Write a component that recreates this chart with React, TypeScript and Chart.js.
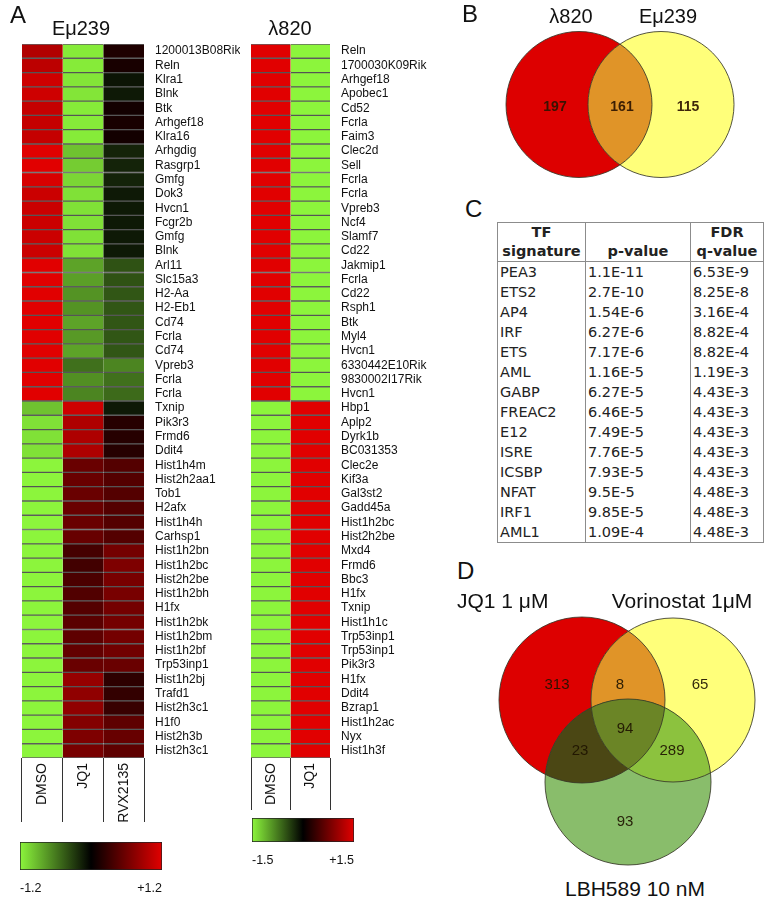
import React, { useEffect, useRef } from 'react';
import { Chart, registerables } from 'chart.js';

Chart.register(...registerables);

const FONT = "'Liberation Sans', Arial, Helvetica, sans-serif";
const TABLE_FONT = "'DejaVu Sans', Verdana, sans-serif";

// ---------------- Panel A: Eμ239 heatmap ----------------
const E239_GENES = [
  '1200013B08Rik', 'Reln', 'Klra1', 'Blnk', 'Btk', 'Arhgef18', 'Klra16', 'Arhgdig', 'Rasgrp1', 'Gmfg',
  'Dok3', 'Hvcn1', 'Fcgr2b', 'Gmfg', 'Blnk', 'Arl11', 'Slc15a3', 'H2-Aa', 'H2-Eb1', 'Cd74',
  'Fcrla', 'Cd74', 'Vpreb3', 'Fcrla', 'Fcrla', 'Txnip', 'Pik3r3', 'Frmd6', 'Ddit4', 'Hist1h4m',
  'Hist2h2aa1', 'Tob1', 'H2afx', 'Hist1h4h', 'Carhsp1', 'Hist1h2bn', 'Hist1h2bc', 'Hist2h2be', 'Hist1h2bh', 'H1fx',
  'Hist1h2bk', 'Hist1h2bm', 'Hist1h2bf', 'Trp53inp1', 'Hist1h2bj', 'Trafd1', 'Hist2h3c1', 'H1f0', 'Hist2h3b', 'Hist2h3c1',
];
const E239_COLUMNS = ['DMSO', 'JQ1', 'RVX2135'];
const E239_DMSO = [
  0.95, 1.0, 1.1, 1.1, 1.05, 1.05, 1.05, 1.2, 1.2, 1.15,
  1.08, 1.08, 1.08, 1.08, 1.08, 1.2, 1.2, 1.2, 1.2, 1.2,
  1.2, 1.2, 1.2, 1.2, 1.2, -0.95, -1.1, -1.1, -1.1, -1.2,
  -1.2, -1.2, -1.2, -1.2, -1.2, -1.2, -1.2, -1.2, -1.2, -1.2,
  -1.2, -1.2, -1.2, -1.2, -1.2, -1.2, -1.2, -1.2, -1.2, -1.2,
];
const E239_JQ1 = [
  -1.15, -1.15, -1.12, -1.12, -1.15, -1.15, -1.15, -0.95, -1.0, -1.05,
  -1.1, -1.1, -1.1, -1.1, -1.1, -0.8, -0.78, -0.72, -0.72, -0.8,
  -0.75, -0.8, -0.55, -0.7, -0.65, 1.1, 0.93, 0.93, 0.93, 0.56,
  0.56, 0.56, 0.56, 0.56, 0.55, 0.37, 0.35, 0.4, 0.43, 0.45,
  0.48, 0.5, 0.53, 0.56, 0.8, 0.77, 0.77, 0.7, 0.67, 0.64,
];
const E239_RVX2135 = [
  0.16, 0.13, -0.1, -0.12, 0.1, 0.13, 0.1, -0.17, -0.17, -0.17,
  -0.12, -0.12, -0.12, -0.12, -0.12, -0.4, -0.4, -0.42, -0.42, -0.42,
  -0.42, -0.42, -0.65, -0.55, -0.52, -0.12, 0.2, 0.2, 0.2, 0.45,
  0.45, 0.45, 0.45, 0.45, 0.45, 0.62, 0.67, 0.64, 0.64, 0.62,
  0.62, 0.62, 0.6, 0.56, 0.24, 0.27, 0.3, 0.5, 0.55, 0.5,
];
const E239_RANGE = 1.2;

// ---------------- Panel A: λ820 heatmap ----------------
const L820_GENES = [
  'Reln', '1700030K09Rik', 'Arhgef18', 'Apobec1', 'Cd52', 'Fcrla', 'Faim3', 'Clec2d', 'Sell', 'Fcrla',
  'Fcrla', 'Vpreb3', 'Ncf4', 'Slamf7', 'Cd22', 'Jakmip1', 'Fcrla', 'Cd22', 'Rsph1', 'Btk',
  'Myl4', 'Hvcn1', '6330442E10Rik', '9830002I17Rik', 'Hvcn1', 'Hbp1', 'Aplp2', 'Dyrk1b', 'BC031353', 'Clec2e',
  'Kif3a', 'Gal3st2', 'Gadd45a', 'Hist1h2bc', 'Hist2h2be', 'Mxd4', 'Frmd6', 'Bbc3', 'H1fx', 'Txnip',
  'Hist1h1c', 'Trp53inp1', 'Trp53inp1', 'Pik3r3', 'H1fx', 'Ddit4', 'Bzrap1', 'Hist1h2ac', 'Nyx', 'Hist1h3f',
];
const L820_COLUMNS = ['DMSO', 'JQ1'];
const L820_DMSO = [
  1.5, 1.5, 1.5, 1.5, 1.5, 1.5, 1.5, 1.5, 1.5, 1.5,
  1.5, 1.5, 1.5, 1.5, 1.5, 1.5, 1.5, 1.5, 1.5, 1.5,
  1.5, 1.5, 1.5, 1.5, 1.5, -1.5, -1.5, -1.5, -1.5, -1.5,
  -1.5, -1.5, -1.5, -1.5, -1.5, -1.5, -1.5, -1.5, -1.5, -1.5,
  -1.5, -1.5, -1.5, -1.5, -1.5, -1.5, -1.5, -1.5, -1.5, -1.5,
];
const L820_JQ1 = [
  -1.5, -1.5, -1.5, -1.5, -1.5, -1.5, -1.5, -1.5, -1.5, -1.5,
  -1.5, -1.5, -1.5, -1.5, -1.5, -1.5, -1.5, -1.5, -1.5, -1.5,
  -1.5, -1.5, -1.5, -1.5, -1.5, 1.5, 1.5, 1.5, 1.5, 1.5,
  1.5, 1.5, 1.5, 1.5, 1.5, 1.5, 1.5, 1.5, 1.5, 1.5,
  1.5, 1.5, 1.5, 1.5, 1.5, 1.5, 1.5, 1.5, 1.5, 1.5,
];
const L820_RANGE = 1.5;

// ---------------- Panel B: Venn ----------------
const VENN_B_SETS = ['λ820', 'Eμ239'];
const VENN_B_REGIONS = ['A', 'AB', 'B'];
const VENN_B_COUNTS = [197, 161, 115];

// ---------------- Panel C: table ----------------
const TF_SIGNATURES = ['PEA3', 'ETS2', 'AP4', 'IRF', 'ETS', 'AML', 'GABP', 'FREAC2', 'E12', 'ISRE', 'ICSBP', 'NFAT', 'IRF1', 'AML1'];
const P_VALUES = ['1.1E-11', '2.7E-10', '1.54E-6', '6.27E-6', '7.17E-6', '1.16E-5', '6.27E-5', '6.46E-5', '7.49E-5', '7.76E-5', '7.93E-5', '9.5E-5', '9.85E-5', '1.09E-4'];
const FDR_Q_VALUES = ['6.53E-9', '8.25E-8', '3.16E-4', '8.82E-4', '8.82E-4', '1.19E-3', '4.43E-3', '4.43E-3', '4.43E-3', '4.43E-3', '4.43E-3', '4.48E-3', '4.48E-3', '4.48E-3'];

// ---------------- Panel D: Venn ----------------
const VENN_D_SETS = ['JQ1 1 μM', 'Vorinostat 1μM', 'LBH589 10 nM'];
const VENN_D_REGIONS = ['A', 'AB', 'B', 'ABC', 'AC', 'BC', 'C'];
const VENN_D_COUNTS = [313, 8, 65, 94, 23, 289, 93];

// ---------------- helpers ----------------
const HEAT_LOW = [140, 245, 60];
const HEAT_HIGH = [225, 0, 0];
function heatColor(v: number, range: number): string {
  const t = Math.max(-1, Math.min(1, v / range));
  const c = t < 0 ? HEAT_LOW : HEAT_HIGH;
  const a = Math.abs(t);
  return `rgb(${Math.round(c[0] * a)},${Math.round(c[1] * a)},${Math.round(c[2] * a)})`;
}

type Area = { left: number; top: number; right: number; bottom: number };

function Heatmap(props: {
  left: number; top: number; width: number; height: number; area: Area;
  genes: string[]; columns: string[]; values: number[][]; range: number; tickLen: number;
}) {
  const ref = useRef<HTMLCanvasElement>(null);
  useEffect(() => {
    const { width, height, area, genes, columns, values, range, tickLen } = props;
    const chart = new Chart(ref.current as HTMLCanvasElement, {
      type: 'bar',
      data: {
        labels: genes,
        datasets: columns.map((name, j) => ({
          label: name,
          data: genes.map(() => 1),
          backgroundColor: values[j].map((v) => heatColor(v, range)),
          borderColor: 'rgba(70,70,70,0.85)',
          borderWidth: { top: 1, bottom: 1, left: 0, right: 0 },
          borderSkipped: false,
          barPercentage: 1,
          categoryPercentage: 1,
        })),
      },
      options: {
        indexAxis: 'y',
        animation: false,
        responsive: false,
        maintainAspectRatio: false,
        devicePixelRatio: 1,
        events: [],
        layout: { padding: { left: area.left, top: area.top, right: 0, bottom: 0 } },
        plugins: { legend: { display: false }, tooltip: { enabled: false }, title: { display: false } },
        scales: {
          x: { type: 'linear', stacked: true, min: 0, max: columns.length, display: false },
          y: {
            type: 'category', position: 'right', offset: true, stacked: true,
            grid: { display: false }, border: { display: false },
            ticks: { autoSkip: false, padding: 3, color: '#111', font: { family: FONT, size: 12 } },
            afterFit: (s: any) => { s.width = width - area.right; },
          },
          cols: {
            type: 'category', labels: columns, position: 'bottom', offset: true,
            grid: { offset: true, drawOnChartArea: false, drawTicks: true, tickLength: tickLen, color: '#333', lineWidth: 1 },
            border: { display: false },
            ticks: {
              autoSkip: false, minRotation: 90, maxRotation: 90, padding: -(tickLen - 5),
              color: '#111', font: { family: FONT, size: 14 },
            },
            afterFit: (s: any) => { s.height = height - area.bottom; },
          },
        } as any,
      },
    } as any);
    return () => chart.destroy();
  }, []);
  return (
    <canvas ref={ref} width={props.width} height={props.height}
      style={{ position: 'absolute', left: props.left, top: props.top, width: props.width, height: props.height }} />
  );
}

function ColorBar(props: { left: number; top: number; width: number; height: number; area: Area; range: number }) {
  const ref = useRef<HTMLCanvasElement>(null);
  useEffect(() => {
    const { width, height, area, range } = props;
    const chart = new Chart(ref.current as HTMLCanvasElement, {
      type: 'bar',
      data: {
        labels: [''],
        datasets: [{
          data: [[-range, range]],
          backgroundColor: (c: any) => {
            const ca = c.chart.chartArea;
            if (!ca) return '#000';
            const g = c.chart.ctx.createLinearGradient(ca.left, 0, ca.right, 0);
            g.addColorStop(0, heatColor(-range, range));
            g.addColorStop(0.5, '#000');
            g.addColorStop(1, heatColor(range, range));
            return g;
          },
          borderColor: '#222',
          borderWidth: 1,
          borderSkipped: false,
          barPercentage: 1,
          categoryPercentage: 1,
        }],
      },
      options: {
        indexAxis: 'y',
        animation: false,
        responsive: false,
        maintainAspectRatio: false,
        devicePixelRatio: 1,
        events: [],
        layout: { padding: { left: area.left, right: width - area.right, top: area.top, bottom: 0 } },
        plugins: { legend: { display: false }, tooltip: { enabled: false } },
        scales: {
          y: { display: false },
          x: {
            type: 'linear', min: -range, max: range,
            grid: { display: false }, border: { display: false },
            afterBuildTicks: (ax: any) => { ax.ticks = [{ value: -range }, { value: range }]; },
            ticks: {
              align: 'inner', padding: 3, color: '#111', font: { family: FONT, size: 12.5 },
              callback: (v: any) => (Number(v) > 0 ? '+' : '') + Number(v).toFixed(1),
            },
            afterFit: (s: any) => { s.height = height - area.bottom; },
          },
        } as any,
      },
    } as any);
    return () => chart.destroy();
  }, []);
  return (
    <canvas ref={ref} width={props.width} height={props.height}
      style={{ position: 'absolute', left: props.left, top: props.top, width: props.width, height: props.height }} />
  );
}

type Circle = { x: number; y: number; r: number; color: string };
type Overlap = { sets: number[]; color: string };
type RegionLabel = { x: number; y: number; text: string };

function Venn(props: {
  left: number; top: number; width: number; height: number;
  circles: Circle[]; overlaps: Overlap[]; labels: RegionLabel[]; font: string; textColor: string;
}) {
  const ref = useRef<HTMLCanvasElement>(null);
  useEffect(() => {
    const { width, height, circles, overlaps, labels, font, textColor } = props;
    const radiusPx = (chart: any, c: Circle) => {
      const s = chart.scales.x;
      return Math.abs(s.getPixelForValue(c.x + c.r) - s.getPixelForValue(c.x));
    };
    const vennPlugin = {
      id: 'vennOverlaps',
      afterDatasetsDraw(chart: any) {
        const { ctx } = chart;
        const sx = chart.scales.x;
        const sy = chart.scales.y;
        const path = (i: number) => {
          const c = circles[i];
          ctx.beginPath();
          ctx.arc(sx.getPixelForValue(c.x), sy.getPixelForValue(c.y), radiusPx(chart, c), 0, Math.PI * 2);
        };
        overlaps.forEach((ov) => {
          ctx.save();
          for (let k = 0; k < ov.sets.length - 1; k++) { path(ov.sets[k]); ctx.clip(); }
          path(ov.sets[ov.sets.length - 1]);
          ctx.fillStyle = ov.color;
          ctx.fill();
          ctx.restore();
        });
        ctx.save();
        ctx.strokeStyle = 'rgba(55,55,40,0.85)';
        ctx.lineWidth = 1;
        circles.forEach((_, i) => { path(i); ctx.stroke(); });
        ctx.restore();
        ctx.save();
        ctx.font = font;
        ctx.fillStyle = textColor;
        ctx.textAlign = 'center';
        ctx.textBaseline = 'middle';
        labels.forEach((l) => ctx.fillText(l.text, sx.getPixelForValue(l.x), sy.getPixelForValue(l.y)));
        ctx.restore();
      },
    };
    const chart = new Chart(ref.current as HTMLCanvasElement, {
      type: 'scatter',
      data: {
        datasets: [{
          data: circles.map((c) => ({ x: c.x, y: c.y })),
          pointRadius: (ctx: any) => radiusPx(ctx.chart, circles[ctx.dataIndex]),
          pointBackgroundColor: circles.map((c) => c.color),
          pointBorderWidth: 0,
          pointHoverRadius: (ctx: any) => radiusPx(ctx.chart, circles[ctx.dataIndex]),
          clip: false,
        }],
      },
      options: {
        animation: false,
        responsive: false,
        maintainAspectRatio: false,
        devicePixelRatio: 1,
        events: [],
        layout: { padding: 0 },
        plugins: { legend: { display: false }, tooltip: { enabled: false } },
        scales: {
          x: { type: 'linear', min: 0, max: width, display: false },
          y: { type: 'linear', min: 0, max: height, reverse: true, display: false },
        },
      },
      plugins: [vennPlugin],
    } as any);
    return () => chart.destroy();
  }, []);
  return (
    <canvas ref={ref} width={props.width} height={props.height}
      style={{ position: 'absolute', left: props.left, top: props.top, width: props.width, height: props.height }} />
  );
}

function Label(props: { x: number; y: number; size: number; text: string; center?: boolean; bold?: boolean }) {
  return (
    <div style={{
      position: 'absolute', left: props.x, top: props.y,
      transform: props.center ? 'translate(-50%,-50%)' : 'translate(0,-50%)',
      fontSize: props.size, lineHeight: 1, whiteSpace: 'nowrap', fontFamily: FONT,
      fontWeight: props.bold ? 700 : 400, color: '#111',
    }}>{props.text}</div>
  );
}

const RED = '#dd0000';
const YELLOW = '#ffff7a';
const GREEN = '#89bd6b';
const ORANGE = '#e09428';

function regionCount(regions: string[], counts: number[], key: string) {
  return String(counts[regions.indexOf(key)]);
}

function DataTable() {
  const border = '1px solid #8c8c8c';
  const th: React.CSSProperties = {
    padding: 0, fontWeight: 700, textAlign: 'center', verticalAlign: 'bottom',
    lineHeight: '19px', borderRight: border, borderBottom: border,
  };
  const td: React.CSSProperties = {
    padding: '0 0 0 2px', lineHeight: '20px', height: 20, borderRight: border, whiteSpace: 'nowrap', textAlign: 'left',
  };
  return (
    <table style={{
      position: 'absolute', left: 497, top: 222, width: 266, borderCollapse: 'collapse', tableLayout: 'fixed',
      fontFamily: TABLE_FONT, fontSize: 14.5, color: '#222', border,
    }}>
      <colgroup>
        <col style={{ width: 88 }} />
        <col style={{ width: 105 }} />
        <col style={{ width: 73 }} />
      </colgroup>
      <thead>
        <tr style={{ height: 39 }}>
          <th style={th}>TF<br />signature</th>
          <th style={th}>p-value</th>
          <th style={th}>FDR<br />q-value</th>
        </tr>
      </thead>
      <tbody>
        {TF_SIGNATURES.map((tf, i) => (
          <tr key={i}>
            <td style={td}>{tf}</td>
            <td style={td}>{P_VALUES[i]}</td>
            <td style={td}>{FDR_Q_VALUES[i]}</td>
          </tr>
        ))}
      </tbody>
    </table>
  );
}

export default function App() {
  const bCount = (k: string) => regionCount(VENN_B_REGIONS, VENN_B_COUNTS, k);
  const dCount = (k: string) => regionCount(VENN_D_REGIONS, VENN_D_COUNTS, k);
  return (
    <div style={{ position: 'absolute', left: 0, top: 0, width: 765, height: 898, background: '#fff', overflow: 'hidden', fontFamily: FONT }}>
      <Heatmap left={0} top={0} width={240} height={836}
        area={{ left: 22, top: 44, right: 144, bottom: 758 }}
        genes={E239_GENES} columns={E239_COLUMNS}
        values={[E239_DMSO, E239_JQ1, E239_RVX2135]} range={E239_RANGE} tickLen={64} />
      <Heatmap left={230} top={0} width={220} height={816}
        area={{ left: 21, top: 44, right: 100, bottom: 758 }}
        genes={L820_GENES} columns={L820_COLUMNS}
        values={[L820_DMSO, L820_JQ1]} range={L820_RANGE} tickLen={52} />
      <ColorBar left={0} top={832} width={200} height={64}
        area={{ left: 20, top: 10, right: 162, bottom: 38 }} range={E239_RANGE} />
      <ColorBar left={232} top={810} width={160} height={56}
        area={{ left: 20, top: 8, right: 122, bottom: 32 }} range={L820_RANGE} />

      <Venn left={455} top={0} width={310} height={195}
        circles={[
          { x: 124, y: 104.5, r: 73, color: RED },
          { x: 206, y: 104.5, r: 73, color: YELLOW },
        ]}
        overlaps={[{ sets: [0, 1], color: ORANGE }]}
        labels={[
          { x: 100, y: 107, text: bCount('A') },
          { x: 167, y: 107, text: bCount('AB') },
          { x: 233, y: 107, text: bCount('B') },
        ]}
        font={`bold 14px ${FONT}`} textColor="rgba(45,20,0,0.92)" />

      <DataTable />

      <Venn left={455} top={600} width={310} height={275}
        circles={[
          { x: 127, y: 100, r: 83, color: RED },
          { x: 218, y: 100, r: 82, color: YELLOW },
          { x: 173, y: 182, r: 83, color: GREEN },
        ]}
        overlaps={[
          { sets: [0, 1], color: ORANGE },
          { sets: [0, 2], color: '#4b4714' },
          { sets: [1, 2], color: '#8cc23e' },
          { sets: [0, 1, 2], color: '#6b8526' },
        ]}
        labels={[
          { x: 102, y: 85, text: dCount('A') },
          { x: 165, y: 85, text: dCount('AB') },
          { x: 245, y: 85, text: dCount('B') },
          { x: 170, y: 129, text: dCount('ABC') },
          { x: 125, y: 151, text: dCount('AC') },
          { x: 217, y: 151, text: dCount('BC') },
          { x: 170, y: 222, text: dCount('C') },
        ]}
        font={`15px ${FONT}`} textColor="rgba(30,20,0,0.92)" />

      <Label x={10} y={15} size={24} text="A" />
      <Label x={81} y={28} size={20} text="Eμ239" center />
      <Label x={290} y={28} size={20} text="λ820" center />
      <Label x={462} y={14} size={24} text="B" />
      <Label x={571} y={15.5} size={20} text={VENN_B_SETS[0]} center />
      <Label x={668} y={15.5} size={20} text={VENN_B_SETS[1]} center />
      <Label x={465} y={208.5} size={24} text="C" />
      <Label x={457} y={571} size={24} text="D" />
      <Label x={457} y={600} size={21} text={VENN_D_SETS[0]} />
      <Label x={682} y={600} size={21} text={VENN_D_SETS[1]} center />
      <Label x={635} y={888} size={21} text={VENN_D_SETS[2]} center />
    </div>
  );
}
